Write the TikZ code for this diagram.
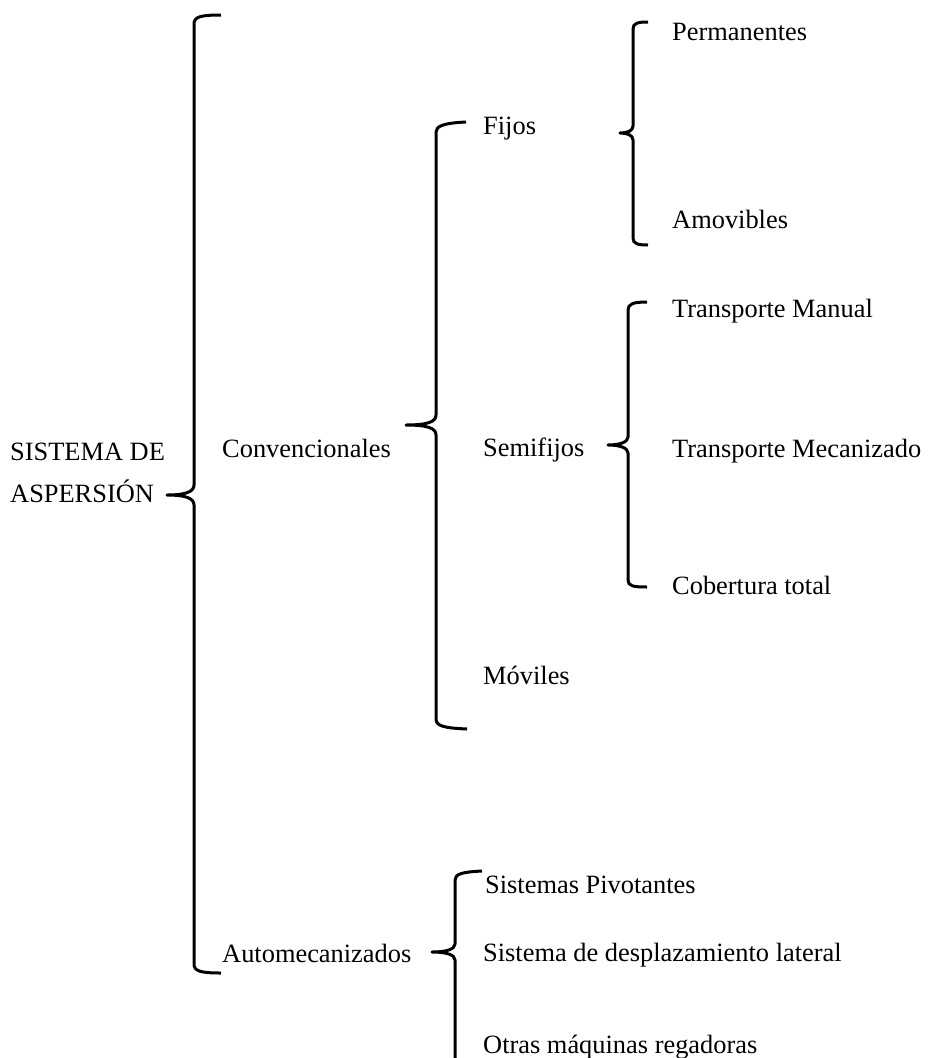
\documentclass[tikz,border=0pt]{standalone}
\usepackage{fontspec}
\setmainfont{Liberation Serif}
\begin{document}
\begin{tikzpicture}[x=1pt,y=-1pt,
  lbl/.style={anchor=base west,inner sep=0pt,font=\fontsize{26.4}{30}\selectfont},
  brace/.style={line width=3pt,line cap=butt,line join=round}]
\useasboundingbox[fill=white] (0,0) rectangle (927,1058);
% Brace 1
\coordinate (b1t) at (221,15); \coordinate (b1m) at (167,495); \coordinate (b1b) at (221,973);
\draw[brace] (b1t) .. controls (200,15) and (194,17) .. (194,24) -- (194,485)
  .. controls (194,492) and (185,495) .. (b1m) .. controls (185,495) and (194,498) .. (194,505)
  -- (194,964) .. controls (194,971) and (200,973) .. (b1b);
% Brace 2
\coordinate (b2t) at (466,122); \coordinate (b2m) at (406,425); \coordinate (b2b) at (467,729);
\draw[brace] (b2t) .. controls (444,123) and (436,126) .. (436,132) -- (436,415)
  .. controls (436,422) and (427,425) .. (b2m) .. controls (427,425) and (436,428) .. (436,435)
  -- (436,719) .. controls (436,726) and (444,728) .. (b2b);
% Brace 3
\coordinate (b3t) at (648,22); \coordinate (b3m) at (620,133); \coordinate (b3b) at (648,245);
\draw[brace] (b3t) .. controls (638,22) and (633,23) .. (633,29) -- (633,126)
  .. controls (633,131) and (627,133) .. (b3m) .. controls (627,133) and (633,135) .. (633,140)
  -- (633,238) .. controls (633,244) and (638,245) .. (b3b);
% Brace 4
\coordinate (b4t) at (647,302); \coordinate (b4m) at (608,445); \coordinate (b4b) at (647,587);
\draw[brace] (b4t) .. controls (633,302) and (628,304) .. (628,310) -- (628,437)
  .. controls (628,442) and (620,445) .. (b4m) .. controls (620,445) and (628,448) .. (628,453)
  -- (628,580) .. controls (628,586) and (633,587) .. (b4b);
% Brace 5
\coordinate (b5t) at (482,871); \coordinate (b5m) at (432,952); \coordinate (b5b) at (455,1060);
\draw[brace] (b5t) .. controls (462,872) and (455,874) .. (455,880) -- (455,944)
  .. controls (455,949) and (447,952) .. (b5m) .. controls (447,952) and (455,955) .. (455,960)
  -- (b5b);
% Labels
\node[lbl] (sis1) at (10,460) {SISTEMA DE};
\node[lbl] (sis2) at (10,502) {ASPERSIÓN};
\node[lbl] (conv) at (222,457) {Convencionales};
\node[lbl] (auto) at (222,962) {Automecanizados};
\node[lbl] (fijos) at (483,134) {Fijos};
\node[lbl] (semi) at (483,456) {Semifijos};
\node[lbl] (movi) at (483,684) {Móviles};
\node[lbl] (perm) at (672,40) {Permanentes};
\node[lbl] (amov) at (672,228) {Amovibles};
\node[lbl] (tman) at (672,317) {Transporte Manual};
\node[lbl] (tmec) at (672,457) {Transporte Mecanizado};
\node[lbl] (cobe) at (672,594) {Cobertura total};
\node[lbl] (piv) at (485,893) {Sistemas Pivotantes};
\node[lbl] (desp) at (483,961) {Sistema de desplazamiento lateral};
\node[lbl] (otras) at (483,1053) {Otras máquinas regadoras};
\end{tikzpicture}
\end{document}
